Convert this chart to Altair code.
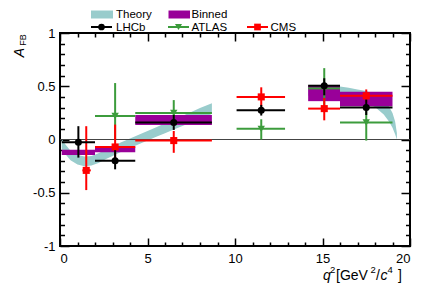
import altair as alt
import pandas as pd

# ---------------- data ----------------
# SM theory band, low q2 region
th_lo_q = [0.1, 0.3, 0.6, 1.0, 1.4, 1.8, 2.2, 2.6, 3.0, 3.5, 4.0, 4.5, 5.0, 5.5, 6.0, 6.5, 7.0, 7.5, 8.0, 8.68]
th_lo_c = [-0.04, -0.09, -0.15, -0.19, -0.205, -0.20, -0.175, -0.14, -0.11, -0.07, -0.035, 0.0, 0.035, 0.07, 0.105, 0.14, 0.175, 0.21, 0.245, 0.29]
th_lo_hw = [0.045, 0.045, 0.045, 0.045, 0.045, 0.045, 0.045, 0.045, 0.045, 0.045, 0.045, 0.045, 0.045, 0.045, 0.047, 0.047, 0.048, 0.048, 0.05, 0.05]
# SM theory band, high q2 region
th_hi_q = [14.18, 15.0, 16.0, 16.5, 17.0, 17.5, 18.0, 18.5, 18.8, 19.0, 19.15, 19.25]
th_hi_c = [0.45, 0.46, 0.455, 0.44, 0.42, 0.40, 0.365, 0.30, 0.24, 0.18, 0.11, 0.03]
th_hi_hw = [0.04, 0.04, 0.042, 0.045, 0.05, 0.055, 0.06, 0.065, 0.07, 0.07, 0.06, 0.03]

# Binned SM prediction
bin_lo = [0.1, 2.0, 4.3, 14.18, 16.0]
bin_hi = [2.0, 4.3, 8.68, 16.0, 19.0]
bin_min = [-0.145, -0.119, 0.135, 0.36, 0.313]
bin_max = [-0.097, -0.065, 0.23, 0.507, 0.448]

# LHCb
lhcb_x = [1.05, 3.15, 6.5, 11.5, 15.1, 17.5]
lhcb_xlo = [0.1, 2.0, 4.3, 10.09, 14.18, 16.0]
lhcb_xhi = [2.0, 4.3, 8.68, 12.86, 16.0, 19.0]
lhcb_y = [-0.025, -0.20, 0.16, 0.275, 0.505, 0.30]
lhcb_eup = [0.15, 0.10, 0.07, 0.05, 0.07, 0.075]
lhcb_edn = [0.145, 0.08, 0.07, 0.05, 0.09, 0.07]

# ATLAS
atlas_x = [3.15, 6.5, 11.5, 15.1, 17.5]
atlas_xlo = [2.0, 4.3, 10.09, 14.18, 16.0]
atlas_xhi = [4.3, 8.68, 12.86, 16.0, 19.0]
atlas_y = [0.22, 0.25, 0.10, 0.48, 0.16]
atlas_eup = [0.31, 0.12, 0.09, 0.19, 0.17]
atlas_edn = [0.22, 0.12, 0.10, 0.19, 0.17]

# CMS
cms_x = [1.5, 3.15, 6.5, 11.5, 15.1, 17.5]
cms_xlo = [1.28, 2.0, 4.3, 10.09, 14.18, 16.0]
cms_xhi = [1.76, 4.3, 8.68, 12.86, 16.0, 19.0]
cms_y = [-0.29, -0.07, -0.01, 0.40, 0.29, 0.41]
cms_eup = [0.415, 0.21, 0.09, 0.09, 0.10, 0.06]
cms_edn = [0.185, 0.12, 0.115, 0.09, 0.11, 0.06]

x_ticks = list(range(0, 21))
y_ticks = [round(i / 10, 1) for i in range(-10, 11)]
x_labels = [0, 5, 10, 15, 20]
y_labels = [-1, -0.5, 0, 0.5, 1]

# ---------------- styling ----------------
W, H = 350, 213
FONT = "Liberation Sans"
C_TH = "#99cccc"
C_BIN = "#990099"
C_LHCB = "black"
C_ATLAS = "#3c9c3c"
C_CMS = "#ff0000"

XS = alt.Scale(domain=[0, 20], nice=False, zero=False)
YS = alt.Scale(domain=[-1, 1], nice=False, zero=False)


def tick_axis(orient, values, test, big, small, offset):
    return alt.Axis(orient=orient, values=values, labels=False, domain=False, grid=False,
                    title=None, ticks=True, tickColor="black", tickWidth=1.5,
                    tickSize={"condition": {"test": test, "value": big}, "value": small},
                    offset=offset)


MX = "datum.value % 5 == 0"
MY = "abs(round(datum.value * 10)) % 5 == 0"

ax_x_lab = alt.Axis(orient="bottom", values=x_labels, ticks=False, tickSize=0, domain=False,
                    grid=False, title=None, labelPadding=6, labelFontSize=13, labelFont=FONT,
                    labelColor="black", labelExpr="'' + datum.value")
ax_y_lab = alt.Axis(orient="left", values=y_labels, ticks=False, tickSize=0, domain=False,
                    grid=False, title=None, labelPadding=5, labelFontSize=13, labelFont=FONT,
                    labelColor="black", labelExpr="'' + datum.value")
ax_x_bot = tick_axis("top", x_ticks, MX, 8, 4, -H)
ax_x_top = tick_axis("bottom", x_ticks, MX, 8, 4, -H)
ax_y_left = tick_axis("right", y_ticks, MY, 9, 4.5, -W)
ax_y_right = tick_axis("left", y_ticks, MY, 9, 4.5, -W)

# ---------------- data frames ----------------
th = pd.DataFrame({
    "q": th_lo_q + th_hi_q,
    "c": th_lo_c + th_hi_c,
    "hw": th_lo_hw + th_hi_hw,
    "seg": ["lo"] * len(th_lo_q) + ["hi"] * len(th_hi_q),
})
th["lo"] = th["c"] - th["hw"]
th["hi"] = th["c"] + th["hw"]

bins = pd.DataFrame({"x0": bin_lo, "x1": bin_hi, "y0": bin_min, "y1": bin_max})


def exp_df(x, xlo, xhi, y, eup, edn):
    d = pd.DataFrame({"x": x, "xlo": xlo, "xhi": xhi, "y": y, "eup": eup, "edn": edn})
    d["ylo"] = d["y"] - d["edn"]
    d["yhi"] = d["y"] + d["eup"]
    return d


lhcb = exp_df(lhcb_x, lhcb_xlo, lhcb_xhi, lhcb_y, lhcb_eup, lhcb_edn)
atlas = exp_df(atlas_x, atlas_xlo, atlas_xhi, atlas_y, atlas_eup, atlas_edn)
cms = exp_df(cms_x, cms_xlo, cms_xhi, cms_y, cms_eup, cms_edn)

theory = alt.Chart(th).mark_area(color=C_TH, opacity=1).encode(
    x=alt.X("q:Q", scale=XS, axis=ax_x_lab),
    y=alt.Y("lo:Q", scale=YS, axis=ax_y_lab),
    y2="hi:Q",
    detail="seg:N",
)

binned = alt.Chart(bins).mark_rect(color=C_BIN, opacity=1).encode(
    x=alt.X("x0:Q", scale=XS, axis=ax_x_bot),
    x2="x1:Q",
    y=alt.Y("y0:Q", scale=YS, axis=ax_y_left),
    y2="y1:Q",
)

zero = alt.Chart(pd.DataFrame({"z": [0]})).mark_rule(color="#444444", strokeWidth=1).encode(
    y=alt.Y("z:Q", scale=YS, axis=None)
)


def exp_layers(d, color, shape, size, xaxis=None, yaxis=None):
    h = alt.Chart(d).mark_rule(color=color, strokeWidth=2).encode(
        x=alt.X("xlo:Q", scale=XS, axis=xaxis), x2="xhi:Q",
        y=alt.Y("y:Q", scale=YS, axis=yaxis))
    v = alt.Chart(d).mark_rule(color=color, strokeWidth=2).encode(
        x=alt.X("x:Q", scale=XS, axis=None),
        y=alt.Y("ylo:Q", scale=YS, axis=None), y2="yhi:Q")
    p = alt.Chart(d).mark_point(filled=True, shape=shape, size=size, color=color, opacity=1).encode(
        x=alt.X("x:Q", scale=XS, axis=None), y=alt.Y("y:Q", scale=YS, axis=None))
    return [h, v, p]


one = pd.DataFrame({"k": [0]})


def txt(t, x, y, size=13, style="normal", angle=0, align="left", baseline="middle"):
    return alt.Chart(one).mark_text(text=t, font=FONT, fontSize=size, fontStyle=style, angle=angle,
                                    align=align, baseline=baseline, color="black").encode(
        x=alt.value(x), y=alt.value(y))


def swatch(x0, x1, y0, y1, color):
    return alt.Chart(one).mark_rect(color=color).encode(
        x=alt.value(x0), x2=alt.value(x1), y=alt.value(y0), y2=alt.value(y1))


def leg_line(x0, x1, y, color, shape, size):
    ln = alt.Chart(one).mark_rule(color=color, strokeWidth=2).encode(
        x=alt.value(x0), x2=alt.value(x1), y=alt.value(y))
    mk = alt.Chart(one).mark_point(filled=True, shape=shape, size=size, color=color, opacity=1).encode(
        x=alt.value((x0 + x1) / 2), y=alt.value(y))
    return [ln, mk]


LF = 11.5    # legend font size
R1 = -18.5   # legend row 1 centre (pixels above the plot top)
R2 = -5.5    # legend row 2 centre
legend = [
    swatch(31, 53, R1 - 4, R1 + 4, C_TH), txt("Theory", 56, R1 + 0.5, size=LF),
    swatch(108.5, 130, R1 - 4, R1 + 4, C_BIN), txt("Binned", 131.5, R1 + 0.5, size=LF),
    *leg_line(31, 52, R2 - 0.5, C_LHCB, "circle", 45), txt("LHCb", 56, R2 + 0.3, size=LF),
    *leg_line(108, 129, R2 - 0.5, C_ATLAS, "triangle-down", 50), txt("ATLAS", 131.5, R2 + 0.3, size=LF),
    *leg_line(187, 208, R2 - 0.5, C_CMS, "square", 45), txt("CMS", 210.5, R2 + 0.3, size=LF),
]

titles = [
    txt("A", -40.5, 19.5, size=14, style="italic", angle=270, align="center"),
    txt("FB", -37.5, 7, size=9, angle=270, align="center"),
    txt("q", 263, 247, size=14, style="italic", baseline="alphabetic"),
    txt("2", 270, 240, size=9.5, baseline="alphabetic"),
    txt("[GeV", 276, 247, size=14, baseline="alphabetic"),
    txt("2", 310.5, 240, size=9.5, baseline="alphabetic"),
    txt("/", 316, 247, size=14, baseline="alphabetic"),
    txt("c", 320.5, 247, size=14, style="italic", baseline="alphabetic"),
    txt("4", 327.5, 240, size=9.5, baseline="alphabetic"),
    txt("]", 338, 247, size=14, baseline="alphabetic"),
]

layers = [theory, binned, zero]
layers += exp_layers(atlas, C_ATLAS, "triangle-down", 55, xaxis=ax_x_top, yaxis=ax_y_right)
layers += exp_layers(cms, C_CMS, "square", 50)
layers += exp_layers(lhcb, C_LHCB, "circle", 50)
layers += legend + titles

chart = alt.layer(*layers).resolve_axis(x="independent", y="independent").properties(
    width=W, height=H,
    autosize=alt.AutoSizeParams(type="none"),
    padding={"left": 52, "top": 25, "right": 14, "bottom": 39},
    background="white",
).configure_view(stroke="black", strokeWidth=2)

chart.save("out.html", embed_options={"renderer": "svg", "actions": False})
